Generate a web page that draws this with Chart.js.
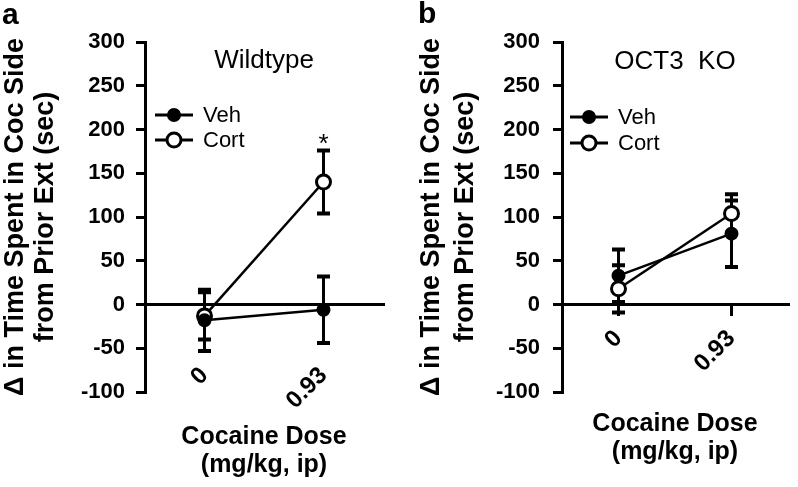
<!DOCTYPE html>
<html>
<head>
<meta charset="utf-8">
<script src="https://cdn.jsdelivr.net/npm/chart.js@4"></script>
<style>
    body { margin: 0; background: #fff; width: 798px; height: 487px; position: relative; overflow: hidden; }
    .panel { position: absolute; top: 0; width: 399px; height: 487px; }
</style>
</head>
<body>
<div class="panel" style="left:0"><canvas id="wildtype" width="399" height="487"></canvas></div>
<div class="panel" style="left:399px"><canvas id="oct3ko" width="399" height="487"></canvas></div>
<script>
const doses = ["0", "0.93"];
const yTicks = [-100, -50, 0, 50, 100, 150, 200, 250, 300];

const wtVeh = [-18, -6];
const wtVehErr = [35, 38];
const wtCort = [-13, 140];
const wtCortErr = [27, 36];
const wtCortStars = ["", "*"];

const koVeh = [33, 81];
const koVehErr = [30, 38];
const koCort = [18, 104];
const koCortErr = [27, 22];

const FONT = "'Liberation Sans', Arial, Helvetica, sans-serif";
Chart.defaults.font.family = FONT;
Chart.defaults.color = "#000";

// vertical error bars with caps, drawn under the markers
const errorBars = {
    id: "errorBars",
    beforeDatasetsDraw(chart) {
        const ctx = chart.ctx;
        const y = chart.scales.y;
        chart.data.datasets.forEach((ds, i) => {
            if (!ds.errors) return;
            chart.getDatasetMeta(i).data.forEach((pt, j) => {
                const top = y.getPixelForValue(ds.data[j] + ds.errors[j]);
                const bot = y.getPixelForValue(ds.data[j] - ds.errors[j]);
                ctx.save();
                ctx.strokeStyle = "#000";
                ctx.lineWidth = 3;
                ctx.beginPath();
                ctx.moveTo(pt.x, top);
                ctx.lineTo(pt.x, bot);
                ctx.stroke();
                ctx.lineWidth = 4;
                ctx.beginPath();
                ctx.moveTo(pt.x - 6.5, top);
                ctx.lineTo(pt.x + 6.5, top);
                ctx.moveTo(pt.x - 6.5, bot);
                ctx.lineTo(pt.x + 6.5, bot);
                ctx.stroke();
                ctx.restore();
            });
        });
    },
    afterDatasetsDraw(chart) {
        const ctx = chart.ctx;
        const y = chart.scales.y;
        chart.data.datasets.forEach((ds, i) => {
            if (!ds.stars) return;
            chart.getDatasetMeta(i).data.forEach((pt, j) => {
                if (!ds.stars[j]) return;
                ctx.save();
                ctx.font = "26px " + FONT;
                ctx.textAlign = "center";
                ctx.textBaseline = "middle";
                ctx.fillText(ds.stars[j], pt.x, y.getPixelForValue(ds.data[j] + ds.errors[j]) - 6);
                ctx.restore();
            });
        });
    }
};

// panel letter, inner title and the line+marker legend
const panelText = {
    id: "panelText",
    afterDraw(chart, args, opts) {
        const ctx = chart.ctx;
        const area = chart.chartArea;
        ctx.save();
        ctx.fillStyle = "#000";
        ctx.textBaseline = "middle";
        ctx.textAlign = "left";
        ctx.font = "bold 30px " + FONT;
        ctx.fillText(opts.letter, opts.letterX, opts.letterY);
        ctx.textAlign = "center";
        ctx.font = "26px " + FONT;
        ctx.fillText(opts.title, (area.left + area.right) / 2, opts.titleY);
        ctx.textAlign = "left";
        ctx.font = "22px " + FONT;
        chart.data.datasets.forEach((ds, i) => {
            const ly = opts.legendY + i * opts.legendGap;
            const lx = opts.legendX;
            ctx.strokeStyle = "#000";
            ctx.lineWidth = 3;
            ctx.beginPath();
            ctx.moveTo(lx, ly);
            ctx.lineTo(lx + 38, ly);
            ctx.stroke();
            ctx.beginPath();
            ctx.arc(lx + 19, ly, ds.pointRadius, 0, Math.PI * 2);
            ctx.fillStyle = ds.pointBackgroundColor;
            ctx.fill();
            ctx.lineWidth = ds.pointBorderWidth;
            ctx.stroke();
            ctx.fillStyle = "#000";
            ctx.fillText(ds.label, lx + 48, ly + 1);
        });
        ctx.restore();
    }
};

function makeDataset(label, data, errors, filled) {
    return {
        label: label,
        data: data,
        errors: errors,
        borderColor: "#000",
        borderWidth: 2.5,
        pointRadius: filled ? 6 : 7,
        pointBorderWidth: filled ? 2 : 3,
        pointBorderColor: "#000",
        pointBackgroundColor: filled ? "#000" : "#fff",
        clip: false,
    };
}

function newPanel(id, datasets, p) {
    return new Chart(document.getElementById(id), {
        type: "line",
        data: { labels: doses, datasets: datasets },
        options: {
            responsive: false,
            animation: false,
            layout: { padding: { top: 42, bottom: 95, left: 0, right: p.right } },
            plugins: {
                legend: { display: false },
                tooltip: { enabled: false },
                panelText: p.text,
            },
            scales: {
                x: {
                    type: "category",
                    offset: true,
                    position: { y: 0 },
                    border: { display: true, color: "#000", width: 3 },
                    grid: { drawOnChartArea: false, drawTicks: true, tickLength: 10, lineWidth: 3, color: "#000" },
                    ticks: {
                        minRotation: 45,
                        maxRotation: 45,
                        padding: p.xPad,
                        color: "#000",
                        font: { size: 24, weight: "bold" },
                    },
                    title: {
                        display: true,
                        text: ["Cocaine Dose", "(mg/kg, ip)"],
                        color: "#000",
                        font: { size: 25, weight: "bold", lineHeight: 1.12 },
                        padding: { top: p.xTitlePad, bottom: 0 },
                    },
                },
                y: {
                    min: -100,
                    max: 300,
                    afterBuildTicks(s) { s.ticks = yTicks.map(v => ({ value: v })); },
                    afterFit(s) { s.width = p.yWidth; },
                    border: { display: true, color: "#000", width: 3 },
                    grid: { drawOnChartArea: false, drawTicks: true, tickLength: 9, lineWidth: 3, color: "#000" },
                    ticks: {
                        padding: p.yPad,
                        color: "#000",
                        font: { size: 22, weight: "bold" },
                    },
                    title: {
                        display: true,
                        text: ["\u0394 in Time Spent in Coc Side", "from Prior Ext (sec)"],
                        color: "#000",
                        font: { size: 27, weight: "bold", lineHeight: p.yTitleLH },
                        padding: { top: p.yTitlePad, bottom: 0 },
                    },
                },
            },
        },
        plugins: [errorBars, panelText],
    });
}

const wtCortSet = makeDataset("Cort", wtCort, wtCortErr, false);
wtCortSet.stars = wtCortStars;

newPanel("wildtype", [
    makeDataset("Veh", wtVeh, wtVehErr, true),
    wtCortSet,
], {
    right: 16, yWidth: 145, yPad: 11, yTitleLH: 1.12, yTitlePad: 0,
    xPad: 47, xTitlePad: 3,
    text: { letter: "a", letterX: 2, letterY: 16, title: "Wildtype", titleY: 61,
            legendX: 155, legendY: 115, legendGap: 25 },
});

newPanel("oct3ko", [
    makeDataset("Veh", koVeh, koVehErr, true),
    makeDataset("Cort", koCort, koCortErr, false),
], {
    right: 0, yWidth: 163, yPad: 13, yTitleLH: 1.28, yTitlePad: 15,
    xPad: 10, xTitlePad: 22,
    text: { letter: "b", letterX: 19, letterY: 15, title: "OCT3  KO", titleY: 62,
            legendX: 171, legendY: 117, legendGap: 26 },
});
</script>
</body>
</html>
